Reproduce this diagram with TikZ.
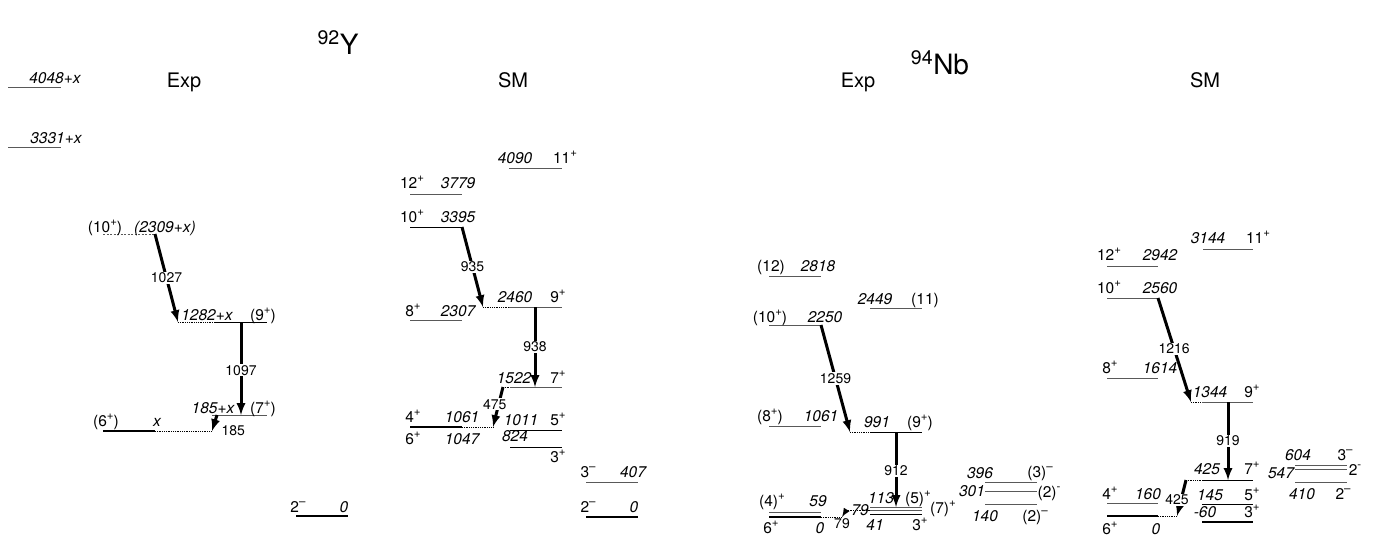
\documentclass[tikz,border=0pt]{standalone}
\usepackage{fontspec}
\setmainfont{TeX Gyre Heros}
\usetikzlibrary{arrows}
\newcommand{\spp}{\raisebox{0.42em}{\fontsize{11.5}{12}\selectfont +}}
\newcommand{\spm}{\raisebox{0.42em}{\fontsize{11.5}{12}\selectfont –}}
\newcommand{\spd}{\raisebox{0.42em}{\fontsize{11.5}{12}\selectfont -}}

\tikzset{
  lev/.style={line width=0.8pt, black!65},
  levd/.style={lev, dash pattern=on 2pt off 1.5pt},
  levk/.style={line width=1pt, black},
  gs/.style={line width=2.6pt},
  lnk/.style={densely dotted, line width=0.8pt},
  gam/.style={-latex, line width=3pt},
  en/.style={font=\fontsize{15.5}{17}\selectfont\itshape, inner sep=0pt, anchor=base},
  sp/.style={font=\fontsize{15.5}{17}\selectfont, inner sep=0pt, anchor=base},
  glab/.style={font=\fontsize{14}{16}\selectfont, fill=white, inner sep=1pt},
  hd/.style={font=\fontsize{20}{24}\selectfont, inner sep=0pt, anchor=base},
  ttl/.style={font=\fontsize{28}{32}\selectfont, inner sep=0pt, anchor=base},
}

\begin{document}
\begin{tikzpicture}[x=1pt,y=-1pt]
\useasboundingbox (0,0) rectangle (1381,539);

%titles
\node[ttl] (hy) at (338,54) {\textsuperscript{92}Y};
\node[ttl] (hn) at (940,74) {\textsuperscript{94}Nb};
\node[hd] (hexpy) at (184,87) {Exp};
\node[hd] (hsmy) at (513,87) {SM};
\node[hd] (hexpn) at (858,87) {Exp};
\node[hd] (hsmn) at (1205,87) {SM};

%levels: name/x left/x right/y/style
\foreach \n/\xa/\xb/\y/\s in {
  y4048/8/61/87/lev, y3331/8/61/147/lev, y2309/103/155/234/levd,
  y1282d/178/215/322/lnk, y1282/215/267/322/levk, y185/212/267/415/lev,
  yx/103/155/431/gs, yxd/155/212/431/lnk, y0e/296/348/516/gs,
  s4090/509/562/168/lev, s3779/410/462/194/lev, s3395/410/462/227/levk,
  s2307/410/462/320/lev, s2460d/483/509/307/lnk, s2460/509/562/307/lev,
  s1522d/503/510/387/lnk, s1522/510/562/387/lev, s1061/410/462/427/gs,
  s1061d/462/493/427/lnk, s1011/510/562/430/levk, s824/510/562/447/levk,
  s407/586/638/482/lev, s0/586/638/517/gs,
  n2818/769/821/276/lev, n2449/870/922/308/lev, n2250/769/821/325/lev,
  n1061/769/821/426/lev, n991d/850/870/432/lnk, n991/870/922/432/levk,
  n113/870/922/507/lev, n79/870/922/510.5/lev, n79d/846/870/510.5/lnk,
  n41/870/922/514/levk, n59/769/821/512/lev, n0/769/821/517/gs,
  n0d/821/842/517/lnk, n396/985/1037/482/lev, n301/985/1037/491/lev,
  n140/985/1037/504/lev,
  m3144/1203/1253/249/lev, m2942/1107/1158/266/lev, m2560/1107/1158/298/lev,
  m1614/1107/1158/378/lev, m1344d/1191/1202/402/lnk, m1344/1202/1253/402/lev,
  m425d/1186/1202/480/lnk, m425/1202/1253/480/levk, m160/1107/1158/503/lev,
  m0/1107/1158/516/gs, m0d/1158/1177/516/lnk, m145/1202/1253/504/levk,
  m60/1202/1253/522/gs, m604/1295/1347/465/lev, m547/1295/1347/469/lev,
  m410/1295/1347/482/lev}
  \draw[\s] (\xa,\y) coordinate (\n-l) -- (\xb,\y) coordinate (\n-r);

%energies
\foreach \x/\y/\tx [count=\i] in {
  55/83/4048+x, 56/143/3331+x, 165/232/(2309+x), 207/320/1282+x,
  213/413/185+x, 157/426/x, 344/512/0,
  515/163/4090, 458/188/3779, 458/222/3395, 458/316/2307, 515/302/2460,
  514/383/1522, 462/422/1061, 462/444/1047, 521/425/1011, 515/441/824,
  633/477/407, 634/512/0,
  818/271/2818, 875/304/2449, 825/322/2250, 821/421/1061, 877/427/991,
  881/503/113, 860/515/79, 875/530/41, 818/506/59, 820/533/0,
  980/478/396, 972/496/301, 985/521/140,
  1208/243/3144, 1160/260/2942, 1160/293/2560, 1160/373/1614, 1210/397/1344,
  1207/474/425, 1148/499/160, 1210/500/145, 1205/517/-60, 1156/534/0,
  1298/460/604, 1281/478/547, 1302/499/410}
  \node[en] (e\i) at (\x,\y) {\tx};

%spins
\foreach \x/\y/\tx [count=\i] in {
  105/232/(10\spp), 263/320/(9\spp), 263/413/(7\spp), 106/426/(6\spp), 298/512/2\spm,
  565/163/11\spp, 412/188/12\spp, 412/222/10\spp, 413/316/8\spp, 558/302/9\spp,
  558/383/7\spp, 413/422/4\spp, 413/444/6\spp, 558/425/5\spp, 558/462/3\spp,
  588/477/3\spm, 588/512/2\spm,
  771/271/(12), 925/304/(11), 770/322/(10\spp), 770/421/(8\spp), 920/427/(9\spp),
  918/503/(5)\spp, 943/513/(7)\spp, 920/530/3\spp, 772/506/(4)\spp, 771/533/6\spp,
  1040/477/(3)\spm, 1049/497/(2)\spd, 1035/521/(2)\spm,
  1258/243/11\spp, 1109/260/12\spp, 1109/293/10\spp, 1110/373/8\spp,
  1252/397/9\spp, 1252/474/7\spp, 1110/499/4\spp, 1252/500/5\spp,
  1252/517/3\spp, 1110/534/6\spp, 1345/460/3\spm, 1355/475/2\spd, 1343/499/2\spm}
  \node[sp] (s\i) at (\x,\y) {\tx};

%gamma rays
\coordinate (g1097a) at (241,322);
\coordinate (g1097b) at (241,415);
\coordinate (g185a) at (217,415);
\coordinate (g938a) at (535,307);
\coordinate (g938b) at (535,387);
\coordinate (g912a) at (896,432);
\coordinate (g912b) at (896,507);
\coordinate (g919a) at (1228,402);
\coordinate (g919b) at (1228,480);

\draw[gam] (y2309-r) -- (y1282d-l) node[glab,pos=0.5] (l1027) {1027};
\draw[gam] (g1097a) -- (g1097b) node[glab,pos=0.52] (l1097) {1097};
\draw[gam] (g185a) -- (yxd-r) node[glab,fill=none,pos=1,anchor=west,xshift=7pt] (l185) {185};
\draw[gam] (s3395-r) -- (s2460d-l) node[glab,pos=0.5] (l935) {935};
\draw[gam] (g938a) -- (g938b) node[glab,pos=0.5] (l938) {938};
\draw[gam] (s1522d-l) -- (s1061d-r) node[glab,pos=0.43,xshift=-4pt] (l475) {475};
\draw[gam] (n2250-r) -- (n991d-l) node[glab,pos=0.5] (l1259) {1259};
\draw[gam] (g912a) -- (g912b) node[glab,pos=0.52] (l912) {912};
\draw[gam,line width=2pt] (n79d-l) -- (n0d-r) node[glab,fill=none,pos=1,below] (l79) {79};
\draw[gam] (m2560-r) -- (m1344d-l) node[glab,pos=0.49] (l1216) {1216};
\draw[gam] (g919a) -- (g919b) node[glab,pos=0.5] (l919) {919};
\draw[gam] (m425d-l) -- (m0d-r) node[glab,pos=0.55,xshift=-4pt] (l425) {425};

\end{tikzpicture}
\end{document}
